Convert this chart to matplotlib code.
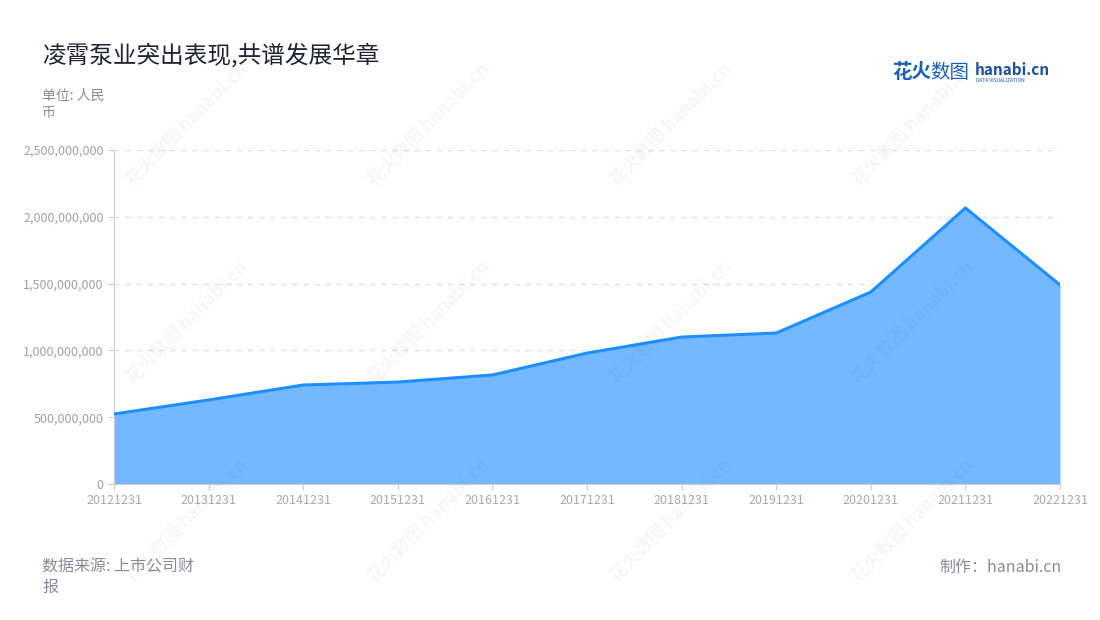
import matplotlib.pyplot as plt
import numpy as np
from matplotlib.ticker import FuncFormatter

plt.rcParams['font.family'] = ['Noto Sans CJK SC', 'DejaVu Sans']

# 数据
years = ['20121231', '20131231', '20141231', '20151231', '20161231', '20171231',
         '20181231', '20191231', '20201231', '20211231', '20221231']
revenue = [524e6, 629e6, 741e6, 763e6, 816e6, 980e6,
           1100e6, 1130e6, 1437e6, 2066e6, 1490e6]
yticks = [0, 500e6, 1000e6, 1500e6, 2000e6, 2500e6]

fig = plt.figure(figsize=(11, 6.2), dpi=100)
ax = fig.add_axes([114/1100, 136/620, 946/1100, 334/620])

x = np.arange(len(years))
ax.fill_between(x, revenue, 0, color='#74b9ff', linewidth=0, zorder=2)
ax.plot(x, revenue, color='#1e8fff', linewidth=2.2, zorder=3, solid_joinstyle='round')

ax.set_xlim(0, len(years) - 1)
ax.set_ylim(0, 2500e6)
ax.set_xticks(x)
ax.set_xticklabels(years)
ax.set_yticks(yticks)
ax.yaxis.set_major_formatter(FuncFormatter(lambda v, p: '{:,.0f}'.format(v)))

ax.grid(axis='y', linestyle=(0, (4, 4)), color='#e3e3e3', linewidth=1, zorder=0)
ax.set_axisbelow(True)
for s in ['top', 'right']:
    ax.spines[s].set_visible(False)
ax.spines['left'].set_color('#cccccc')
ax.spines['bottom'].set_color('#cccccc')
ax.tick_params(axis='y', colors='#cccccc', labelcolor='#a0a0a8', labelsize=9, length=4)
ax.tick_params(axis='x', colors='#cccccc', labelcolor='#a8a8b4', labelsize=9, length=4)

# 水印
for wx, wy in [(0.17, 0.8), (0.39, 0.8), (0.61, 0.8), (0.83, 0.8),
               (0.17, 0.48), (0.39, 0.48), (0.61, 0.48), (0.83, 0.48),
               (0.17, 0.16), (0.39, 0.16), (0.61, 0.16), (0.83, 0.16)]:
    fig.text(wx, wy, '花火数图 hanabi.cn', rotation=45, fontsize=13, color='#000000',
             alpha=0.035, ha='center', va='center', fontweight='bold')

# 标题和注释
fig.text(42/1100, 1 - 55/620, '凌霄泵业突出表现,共谱发展华章', fontsize=17,
         color='#222233', va='center')
fig.text(42/1100, 1 - 104/620, '单位: 人民\n币', fontsize=10, color='#8a8a96',
         va='center', linespacing=1.3)
fig.text(42/1100, 1 - 577/620, '数据来源: 上市公司财\n报', fontsize=11.5, color='#8a8a96',
         va='center', linespacing=1.3)
fig.text(1062/1100, 1 - 567/620, '制作：hanabi.cn', fontsize=11.5, color='#8a8a96',
         va='center', ha='right')

# logo
fig.text(892/1100, 1 - 72/620, '花火', fontsize=14, color='#1a5fb4',
         va='center', fontweight='bold')
fig.text(930/1100, 1 - 72/620, '数图', fontsize=14, color='#1a5fb4', va='center')
fig.text(975/1100, 1 - 70/620, 'hanabi.cn', fontsize=11, color='#1a4fa0',
         va='center', fontweight='bold')
fig.text(976/1100, 1 - 80/620, 'DATA VISUALIZATION', fontsize=3.5, color='#1a4fa0',
         va='center')

plt.savefig('out.png', dpi=100)
